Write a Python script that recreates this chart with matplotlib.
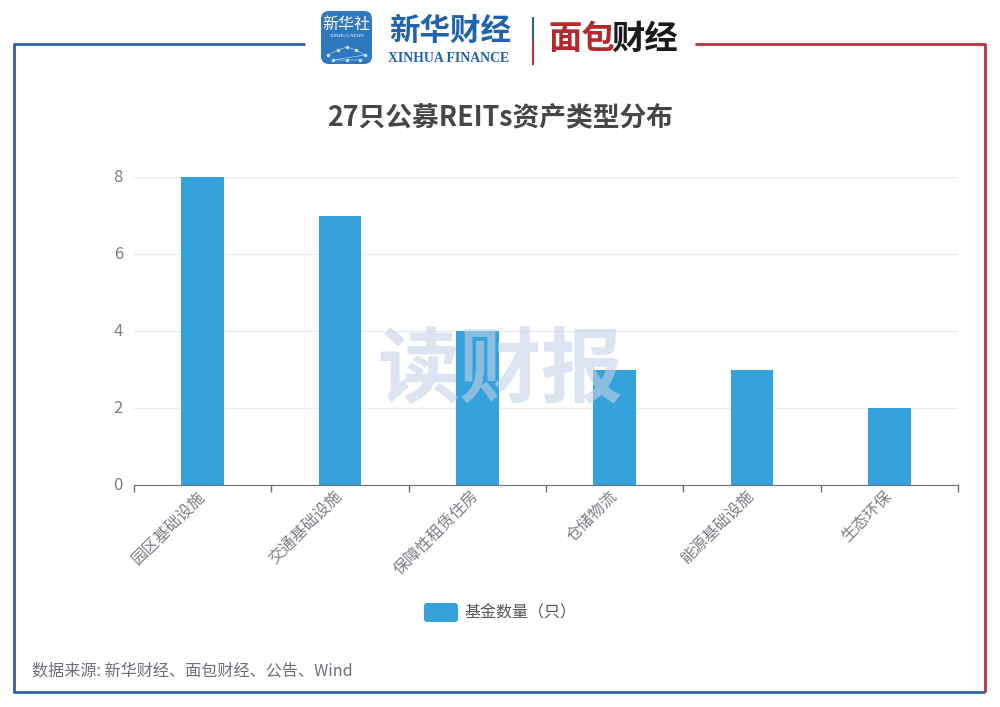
import matplotlib
matplotlib.use('Agg')
import matplotlib.pyplot as plt
from matplotlib.patches import FancyBboxPatch
from matplotlib.transforms import ScaledTranslation

plt.rcParams['font.family'] = ['Noto Sans CJK SC', 'DejaVu Sans']

categories = ['园区基础设施', '交通基础设施', '保障性租赁住房', '仓储物流', '能源基础设施', '生态环保']
fund_counts = [8, 7, 4, 3, 3, 2]
y_ticks = [0, 2, 4, 6, 8]

title = '27只公募REITs资产类型分布'
legend_label = '基金数量（只）'
source = '数据来源: 新华财经、面包财经、公告、Wind'
watermark = '读财报'

BLUE = '#2f5f9f'
RED = '#b5343c'
BAR = '#36a2dc'


def px_axes(fig, left, top, right, bottom):
    return fig.add_axes([left / 1000, 1 - bottom / 707, (right - left) / 1000, (bottom - top) / 707])


def draw_page(fig):
    """Рамка, логотипы и подписи в пикселях картинки"""
    page = fig.add_axes([0, 0, 1, 1], zorder=0)
    page.set_xlim(0, 1000)
    page.set_ylim(707, 0)
    page.axis('off')

    page.plot([305, 14, 14, 985], [44, 44, 692, 692], color=BLUE, lw=2, solid_capstyle='butt')
    page.plot([695, 985, 985], [44, 44, 692], color=RED, lw=2, solid_capstyle='butt')

    icon = FancyBboxPatch((321, 11), 51, 53, boxstyle='round,pad=0,rounding_size=8', fc='#2f78c0', ec='none')
    page.add_patch(icon)
    page.text(346.5, 24, '新华社', color='white', fontsize=11.5, ha='center', va='center')
    page.text(346.5, 36, 'XINHUA NEWS', color='white', fontsize=3.5, ha='center', va='center', family='Liberation Serif')
    # сетка точек на значке
    page.plot([328, 338, 347, 356, 365, 333, 347, 360], [55, 50, 47, 50, 55, 60, 60, 60],
              color='#cfe3f6', lw=0.4, marker='o', ms=1.5)
    page.text(450, 31, '新华财经', color='#1f62ad', fontsize=22, ha='center', va='center', weight='bold')
    page.text(449, 58, 'XINHUA FINANCE', color='#1f62ad', fontsize=9.9, ha='center', va='center',
              family='Liberation Serif', weight='bold')
    page.plot([533, 533], [17, 41], color=BLUE, lw=1.5, solid_capstyle='butt')
    page.plot([533, 533], [41, 65], color=RED, lw=1.5, solid_capstyle='butt')
    page.text(582, 39, '面包', color='#b5282e', fontsize=24, ha='center', va='center', weight='bold')
    page.text(645, 39, '财经', color='#1a1a1a', fontsize=24, ha='center', va='center', weight='bold')

    page.text(500, 118, title, color='#464646', fontsize=19.3, ha='center', va='center', weight='bold')
    page.text(32, 671, source, color='#6e7079', fontsize=11.6, ha='left', va='center')


def draw_chart(fig):
    axis = px_axes(fig, 134, 177, 958, 485)
    axis.patch.set_alpha(0)
    axis.set_zorder(1)

    x = range(len(categories))
    bars = axis.bar(x, fund_counts, width=0.31, color=BAR, label=legend_label, zorder=2)

    axis.set_xlim(-0.5, len(categories) - 0.5)
    axis.set_ylim(0, 8)
    axis.set_yticks(y_ticks)
    axis.grid(axis='y', color='#e6ebf6', lw=1, zorder=0)
    axis.tick_params(axis='y', length=0, labelsize=12, labelcolor='#7c7e86', pad=8)
    # подписи оси Y чуть выше линий сетки
    shift = ScaledTranslation(0, 2 / 100, fig.dpi_scale_trans)
    for label in axis.get_yticklabels():
        label.set_transform(label.get_transform() + shift)

    # деления стоят между столбцами
    axis.set_xticks([i - 0.5 for i in range(len(categories) + 1)])
    axis.set_xticklabels([])
    axis.tick_params(axis='x', length=5, color='#6e7079', width=1)
    for i, name in zip(x, categories):
        axis.annotate(name, xy=(i, 0), xycoords=('data', 'axes fraction'), xytext=(-4.5, -2),
                      textcoords='offset points', rotation=45, rotation_mode='anchor',
                      ha='right', va='top', fontsize=11.5, color='#7c7e86')

    for side in ['top', 'right', 'left']:
        axis.spines[side].set_visible(False)
    axis.spines['bottom'].set_color('#6e7079')

    fig.text(500 / 1000, 1 - 372 / 707, watermark, color='#c3d2e6', alpha=0.6, fontsize=59,
             weight='black', ha='center', va='center', zorder=5)

    legend = FancyBboxPatch((424, 603), 34, 19, boxstyle='round,pad=0,rounding_size=3', fc=bars[0].get_facecolor(),
                            ec='none')
    fig.axes[0].add_patch(legend)
    fig.text(464 / 1000, 1 - 613 / 707, legend_label, color='#555555', fontsize=11.5, ha='left', va='center')


if __name__ == '__main__':
    fig = plt.figure(figsize=(10, 7.07), dpi=100, facecolor='white')
    draw_page(fig)
    draw_chart(fig)
    fig.savefig('out.png', dpi=100)
